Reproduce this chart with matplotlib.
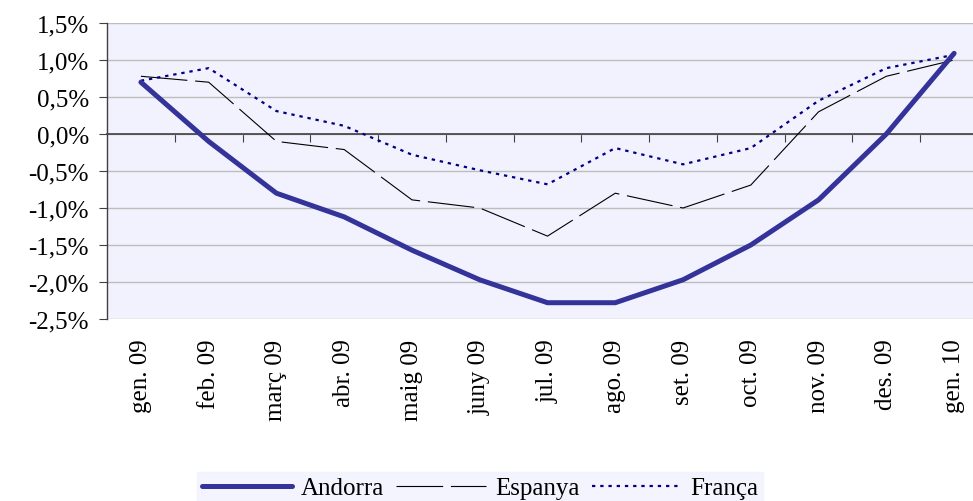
import matplotlib
matplotlib.use("Agg")
import matplotlib.pyplot as plt
from matplotlib.ticker import FixedLocator, FuncFormatter

months = ["gen. 09", "feb. 09", "març 09", "abr. 09", "maig 09", "juny 09", "jul. 09",
          "ago. 09", "set. 09", "oct. 09", "nov. 09", "des. 09", "gen. 10"]
andorra = [0.7, -0.1, -0.8, -1.12, -1.57, -1.97, -2.28, -2.28, -1.97, -1.5, -0.89, 0.0, 1.09]
espanya = [0.78, 0.7, -0.1, -0.21, -0.89, -1.0, -1.38, -0.8, -1.0, -0.69, 0.3, 0.78, 1.0]
franca = [0.72, 0.89, 0.31, 0.11, -0.28, -0.49, -0.68, -0.19, -0.41, -0.19, 0.45, 0.89, 1.07]
yticks = [1.5, 1.0, 0.5, 0.0, -0.5, -1.0, -1.5, -2.0, -2.5]

plt.rcParams['font.family'] = ['Liberation Serif', 'DejaVu Serif']

W, H = 973, 502
fig = plt.figure(figsize=(W / 100, H / 100), dpi=100)
fig.patch.set_facecolor('white')
ax = fig.add_axes([107 / W, (H - 320) / H, 881 / W, 296 / H])
ax.set_facecolor('#F2F2FF')

x = list(range(len(months)))
ax.plot(x, andorra, color='#333399', lw=3.6, solid_capstyle='round', label='Andorra', zorder=5)
l2, = ax.plot(x, espanya, color='black', lw=0.8, label='Espanya', zorder=4)
l2.set_dashes((42, 7))
l3, = ax.plot(x, franca, color='#000080', lw=1.6, label='França', zorder=4)
l3.set_dashes((1.5, 2.2))

ax.set_xlim(-0.5, len(months) - 0.5)
ax.set_ylim(-2.5, 1.5)
ax.yaxis.set_major_locator(FixedLocator(yticks))
ax.yaxis.set_major_formatter(FuncFormatter(lambda v, p: f"{v:.1f}%".replace('.', ',')))
ax.grid(axis='y', color='#BDBDBD', lw=1.0, zorder=0)
ax.set_axisbelow(True)

for s in ['top', 'right']:
    ax.spines[s].set_visible(False)
ax.spines['left'].set_color('#404040')
ax.spines['left'].set_linewidth(1.0)
ax.spines['bottom'].set_position(('data', 0))
ax.spines['bottom'].set_color('#404040')
ax.spines['bottom'].set_linewidth(1.2)

ax.xaxis.set_major_locator(FixedLocator([i + 0.5 for i in x]))
ax.tick_params(axis='x', direction='out', length=6, color='#404040', labelbottom=False)
ax.tick_params(axis='y', direction='out', length=6, color='#404040', labelsize=18, pad=7)

sec = ax.secondary_xaxis(0.0)
sec.set_xticks(x)
sec.set_xticklabels(months, rotation=90, fontsize=18, va='top', ha='center')
sec.tick_params(length=0, pad=14)
sec.spines['bottom'].set_visible(False)

leg = fig.legend(loc='center', bbox_to_anchor=(480 / W, 1 - 489 / H), ncol=3,
                 fontsize=18, frameon=True, fancybox=False, handlelength=3.6,
                 columnspacing=0.5, handletextpad=0.35, borderpad=0.2)
leg.get_frame().set_facecolor('#F2F2FF')
leg.get_frame().set_edgecolor('#F2F2FF')

fig.savefig('out.png', dpi=100)
